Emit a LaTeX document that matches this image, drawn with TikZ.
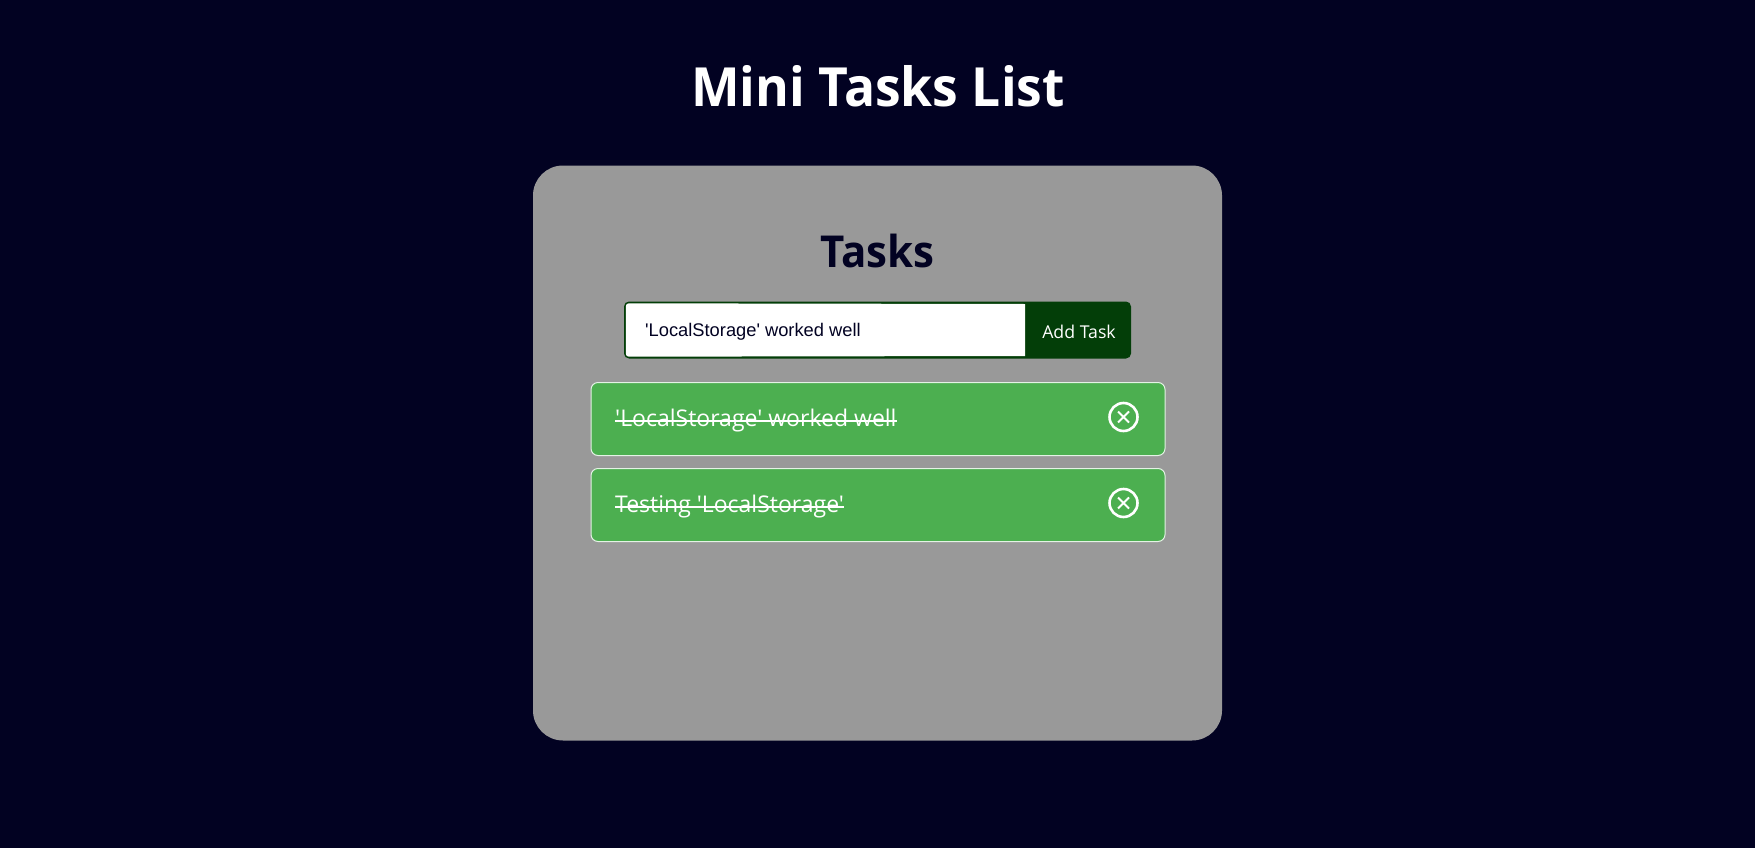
\documentclass[tikz,border=0pt]{standalone}
\usepackage{xcolor}
\usepackage{fontspec}
\setmainfont{Open Sans}
\newfontfamily\headfont[FakeStretch=0.955]{Open Sans}
\newfontfamily\bodyfont{Open Sans}
\newfontfamily\fieldfont{Liberation Sans}
\usetikzlibrary{positioning, shapes.misc}

\definecolor{pagebg}{RGB}{2,2,34}
\definecolor{cardgray}{RGB}{153,153,153}
\definecolor{itemgreen}{RGB}{76,175,80}
\definecolor{btngreen}{RGB}{3,62,8}

\begin{document}
\begin{tikzpicture}[
    x=1pt, y=-1pt,
    card_box/.style={rectangle, fill=cardgray, rounded corners=30pt, minimum width=689pt, minimum height=575pt},
    heading/.style={inner sep=0pt},
    form_box/.style={rectangle, fill=btngreen, rounded corners=5pt, minimum width=507pt, minimum height=57pt},
    item_box/.style={rectangle, draw=white!85!itemgreen, fill=itemgreen, line width=1pt, rounded corners=7pt, minimum width=574pt, minimum height=73pt},
    item_text/.style={inner sep=0pt, text=white, font=\bodyfont\fontsize{23}{27}\selectfont},
    strike_line/.style={draw=white, line width=1.8pt},
    close_circ/.style={circle, draw=white, line width=2.6pt, minimum size=28pt, inner sep=0pt},
    close_cross/.style={cross out, draw=white, line width=2pt, minimum size=9pt, inner sep=0pt}
]

% page
\useasboundingbox[fill=pagebg] (0,0) rectangle (1755,848);

% headings
\node[heading, text=white, font=\headfont\bfseries\fontsize{54}{60}\selectfont] (title) at (878,86) {Mini Tasks List};
\node[card_box] (card) at (877.5,453) {};
\node[heading, text=pagebg, font=\headfont\bfseries\fontsize{44}{50}\selectfont] (tasks) at (877.5,251) {Tasks};

% input row
\node[form_box] (form) at (877.5,330) {};
\fill[white, rounded corners=3pt] ([shift={(2pt,-2pt)}]form.north west) [sharp corners] -- (1025,304) -- (1025,356) [rounded corners=3pt] -- ([shift={(2pt,2pt)}]form.south west) -- cycle;
\node[anchor=west, inner sep=0pt, text=pagebg, font=\fieldfont\fontsize{18.3}{22}\selectfont] (fieldtext) at (645,332) {'LocalStorage' worked well};
\node[inner sep=0pt, text=white, font=\bodyfont\fontsize{17.7}{22}\selectfont] (addbtn) at (1079,332) {Add Task};

% task items
\node[item_box] (item1) at (878,419) {};
\node[item_box, below=12pt of item1] (item2) {};

\node[item_text, anchor=west] (label1) at (615,421) {'LocalStorage' worked well};
\node[item_text, anchor=west] (label2) at (615,507) {Testing 'LocalStorage'};

\draw[strike_line] (label1.west) -- (label1.east);
\draw[strike_line] (label2.west) -- (label2.east);

% close icons
\node[close_circ] (close1) at (1123.5,417) {};
\node[close_circ] (close2) at (1123.5,503) {};
\node[close_cross] (cross1) at (close1) {};
\node[close_cross] (cross2) at (close2) {};

\end{tikzpicture}
\end{document}
